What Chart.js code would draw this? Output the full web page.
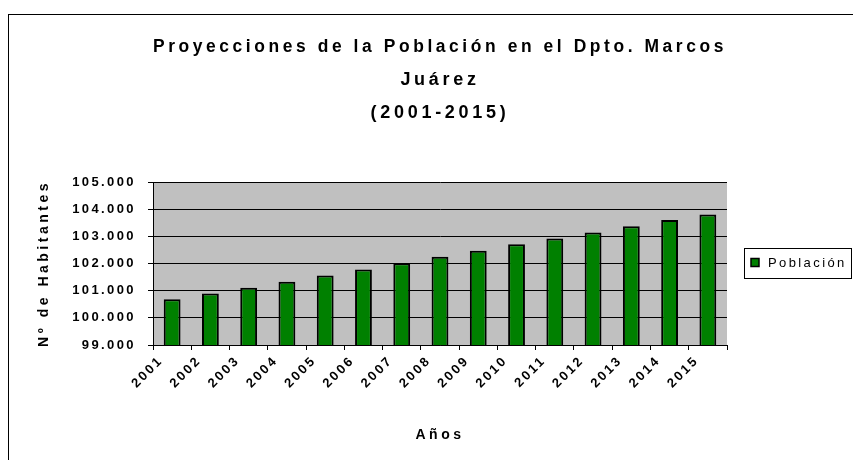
<!DOCTYPE html>
<html>
<head>
<meta charset="utf-8">
<script src="https://cdn.jsdelivr.net/npm/chart.js@4/dist/chart.umd.min.js"></script>
<style>
  html, body { margin: 0; padding: 0; background: #fff; }
  #wrap { width: 853px; height: 460px; position: relative; }
</style>
</head>
<body>
<div id="wrap"><canvas id="c" width="853" height="460"></canvas></div>
<script>
// Años proyectados
const years = ['2001', '2002', '2003', '2004', '2005', '2006', '2007', '2008',
               '2009', '2010', '2011', '2012', '2013', '2014', '2015'];
// Población proyectada del Dpto. Marcos Juárez
const poblacion = [100680, 100900, 101110, 101330, 101560, 101780, 102010, 102250,
                   102470, 102710, 102920, 103140, 103375, 103600, 103800];
// Rango y paso del eje de habitantes
const yMin = 99000;
const yMax = 105000;
const yStep = 1000;
const titleLines = ['Proyecciones de la Población en el Dpto. Marcos', 'Juárez', '(2001-2015)'];
const seriesName = 'Población';

const FONT = "'Liberation Sans', Arial, sans-serif";

// Separador de miles con punto
function fmtMiles(v) {
  return String(Math.round(v)).replace(/\B(?=(\d{3})+(?!\d))/g, '.');
}

// Espaciado entre letras según el tamaño de la fuente
const SPACING = { 18: '3.7px', 13: '2.4px', 14: '3.5px' };
function spacingFor(font) {
  const m = /(\d+(?:\.\d+)?)px/.exec(font);
  return (m && SPACING[m[1]]) || '0px';
}

const spacedText = {
  id: 'spacedText',
  beforeInit(chart) {
    const ctx = chart.ctx;
    const desc = Object.getOwnPropertyDescriptor(CanvasRenderingContext2D.prototype, 'font');
    Object.defineProperty(ctx, 'font', {
      configurable: true,
      get() { return desc.get.call(this); },
      set(v) { desc.set.call(this, v); this.letterSpacing = spacingFor(v); }
    });
  }
};

// Fondo gris del área de trazado y marco exterior
const plotBackground = {
  id: 'plotBackground',
  beforeDraw(chart) {
    const { ctx, chartArea: a } = chart;
    ctx.save();
    ctx.fillStyle = '#C0C0C0';
    ctx.fillRect(a.left, a.top, a.right - a.left, a.bottom - a.top);
    ctx.strokeStyle = '#000';
    ctx.lineWidth = 1;
    ctx.strokeRect(8.5, 14.5, 1200, 1200);
    ctx.restore();
  }
};

// Leyenda con recuadro a la derecha del gráfico
const boxedLegend = {
  id: 'boxedLegend',
  afterDraw(chart) {
    const { ctx, chartArea: a } = chart;
    const ds = chart.data.datasets[0];
    const cy = (a.top + a.bottom) / 2 - 1;
    const left = 744, right = 851, h = 30;
    ctx.save();
    ctx.fillStyle = '#fff';
    ctx.fillRect(left, cy - h / 2, right - left, h);
    ctx.strokeStyle = '#000';
    ctx.lineWidth = 1;
    ctx.strokeRect(left + 0.5, Math.round(cy - h / 2) + 0.5, right - left, h);
    ctx.fillStyle = ds.backgroundColor;
    ctx.fillRect(751, cy - 4, 8, 8);
    ctx.lineWidth = 1.5;
    ctx.strokeRect(751, cy - 4, 8, 8);
    ctx.font = '13px ' + FONT;
    ctx.letterSpacing = '2.4px';
    ctx.fillStyle = '#000';
    ctx.textAlign = 'left';
    ctx.textBaseline = 'middle';
    ctx.fillText(ds.label, 768, cy + 1);
    ctx.restore();
  }
};

new Chart(document.getElementById('c'), {
  type: 'bar',
  data: {
    labels: years,
    datasets: [{
      label: seriesName,
      data: poblacion,
      backgroundColor: '#008000',
      borderColor: '#000',
      borderWidth: 2,
      borderSkipped: false,
      categoryPercentage: 1,
      barPercentage: 0.44
    }]
  },
  options: {
    responsive: false,
    animation: false,
    events: [],
    layout: { padding: { left: 0, right: 126, top: 0, bottom: 0 } },
    plugins: {
      legend: { display: false },
      tooltip: { enabled: false },
      title: {
        display: true,
        fullSize: false,
        text: titleLines,
        color: '#000',
        font: { family: FONT, size: 18, weight: 'bold', lineHeight: 33 / 18 },
        padding: { top: 31, bottom: 52 }
      }
    },
    scales: {
      x: {
        afterFit(scale) { scale.height = 115; },
        grid: {
          offset: true,
          drawOnChartArea: false,
          drawTicks: true,
          tickLength: 5,
          color: '#000'
        },
        border: { display: true, color: '#000', width: 1 },
        ticks: {
          color: '#000',
          font: { family: FONT, size: 13, weight: 'bold' },
          minRotation: 45,
          maxRotation: 45,
          autoSkip: false,
          padding: 3,
          labelOffset: -11
        },
        title: {
          display: true,
          text: 'Años',
          color: '#000',
          font: { family: FONT, size: 14, weight: 'bold' },
          padding: { top: 0, bottom: 16 }
        }
      },
      y: {
        min: yMin,
        max: yMax,
        afterFit(scale) { scale.width = 153; },
        grid: {
          color: '#000',
          lineWidth: 1,
          drawTicks: true,
          tickLength: 5
        },
        border: { display: true, color: '#000', width: 1 },
        ticks: {
          stepSize: yStep,
          color: '#000',
          font: { family: FONT, size: 13, weight: 'bold' },
          padding: 12,
          callback: (v) => fmtMiles(v)
        },
        title: {
          display: true,
          text: 'Nº de Habitantes',
          color: '#000',
          font: { family: FONT, size: 14, weight: 'bold' },
          padding: { top: 36, bottom: 0 }
        }
      }
    }
  },
  plugins: [spacedText, plotBackground, boxedLegend]
});
</script>
</body>
</html>
